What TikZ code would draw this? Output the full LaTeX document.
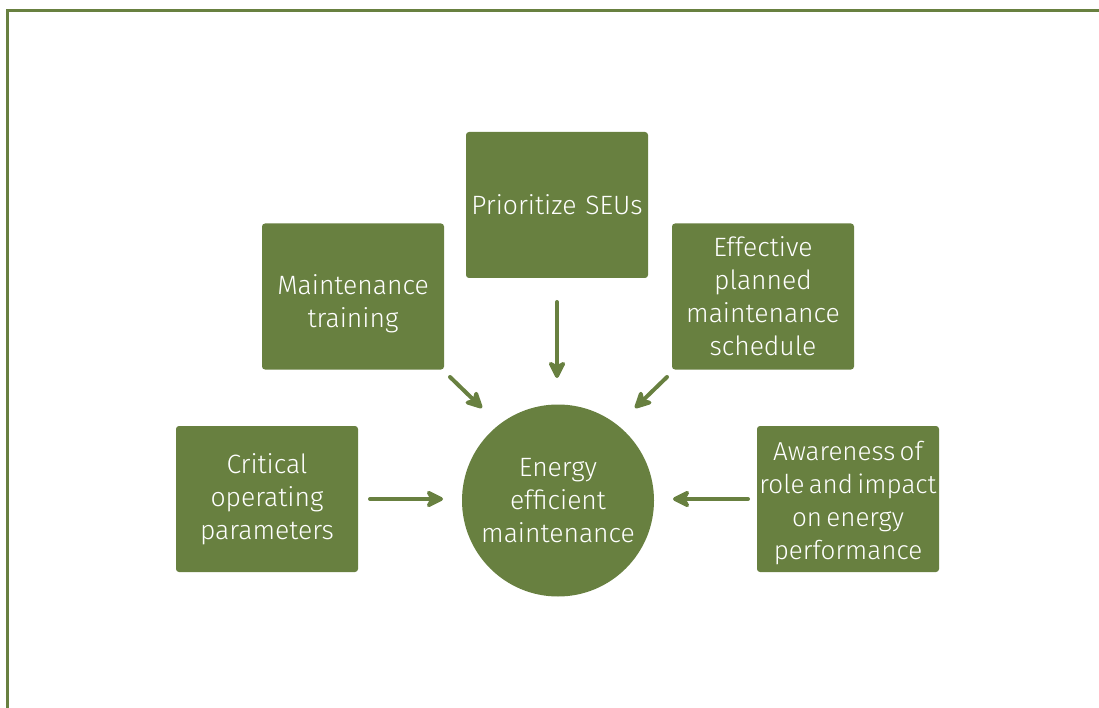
\documentclass[tikz,border=0pt]{standalone}
\usepackage{fontspec}
\setmainfont{Fira Sans}[UprightFont=* Light,WordSpace=0.6]
\usetikzlibrary{arrows.meta}
\definecolor{olive}{RGB}{104,128,64}
\begin{document}
\begin{tikzpicture}[x=1pt,y=-1pt,
  boxtext/.style={text=white,align=center,inner sep=0pt,font=\fontsize{26.5}{33}\selectfont},
  box/.style={fill=olive,rounded corners=3pt,minimum width=182pt,minimum height=146pt,
    text width=182pt,boxtext},
  hub/.style={circle,fill=olive,minimum size=192pt,boxtext},
  link/.style={draw=olive,line width=4pt,line cap=round,
    -{Stealth[length=21pt,width=21pt,inset=6pt,round]}}]
\useasboundingbox (0,0) rectangle (1099,708);
% frame
\draw[olive,line width=3pt] (7,708) -- (7,10.5) -- (1099,10.5);
% nodes
\node[hub] (c) at (558,500.5) {Energy\\efficient\\maintenance};
\node[box] (p) at (557,205) {Prioritize SEUs};
\node[box,label={[boxtext,yshift=-7pt]center:Maintenance\\training}] (m) at (353,296.5) {};
\node[box] (e) at (763,296.5) {Effective\\planned\\maintenance\\schedule};
\node[box] (k) at (267,499) {Critical\\operating\\parameters};
\node[box,label={[boxtext,yshift=-4pt,font=\fontsize{26}{33}\selectfont]center:Awareness of\\role and impact\\on energy\\performance}] (a) at (848,499) {};
% connectors
\coordinate (p1) at (557,302); \coordinate (p2) at (557,378);
\coordinate (m1) at (450,377); \coordinate (m2) at (482,408);
\coordinate (e1) at (667,377); \coordinate (e2) at (635,408);
\coordinate (k1) at (370,499); \coordinate (k2) at (443,499);
\coordinate (a1) at (748,499); \coordinate (a2) at (673,499);
\draw[link] (p1) -- (p2);
\draw[link] (m1) -- (m2);
\draw[link] (e1) -- (e2);
\draw[link] (k1) -- (k2);
\draw[link] (a1) -- (a2);
\end{tikzpicture}
\end{document}
